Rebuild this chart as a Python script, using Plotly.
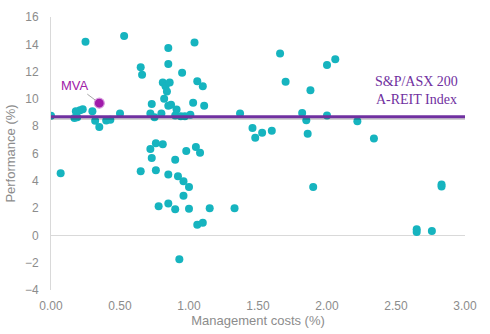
import plotly.graph_objects as go

costs = [0.00, 0.07, 0.17, 0.18, 0.21, 0.23, 0.25, 0.30, 0.32, 0.35, 0.40, 0.43, 0.50, 0.53,
         0.65, 0.66, 0.65, 0.72, 0.73, 0.75, 0.72, 0.76, 0.73, 0.76, 0.78, 0.80, 0.81, 0.81,
         0.83, 0.82, 0.84, 0.85, 0.85, 0.85, 0.87, 0.86, 0.85, 0.85, 0.90, 0.90, 0.90, 0.91,
         0.92, 0.93, 0.94, 0.95, 0.96, 0.96, 0.97, 0.98, 1.00, 1.00, 1.01, 1.03, 1.04, 1.05,
         1.06, 1.06, 1.08, 1.10, 1.10, 1.11, 1.15, 1.33, 1.37, 1.46, 1.48, 1.53, 1.60, 1.66,
         1.70, 1.82, 1.85, 1.86, 1.88, 1.90, 2.00, 2.00, 2.06, 2.22, 2.34, 2.65, 2.65, 2.76,
         2.83, 2.83, 0.19]
perf = [8.77, 4.56, 8.60, 9.10, 9.17, 9.25, 14.18, 9.10, 8.40, 7.94, 8.42, 8.48, 8.93, 14.60,
        12.31, 11.77, 4.70, 8.93, 9.62, 8.65, 6.33, 6.76, 5.67, 4.77, 2.13, 8.93, 6.67, 11.20,
        10.93, 10.01, 10.54, 13.73, 12.55, 9.49, 9.58, 11.20, 4.47, 2.34, 5.55, 1.91, 8.79, 9.23,
        4.33, -1.75, 8.72, 11.91, 3.97, 2.91, 8.72, 6.19, 3.55, 1.96, 8.83, 9.72, 14.13, 6.48,
        11.30, 0.78, 6.05, 10.92, 0.92, 9.50, 1.98, 1.98, 8.93, 7.87, 7.16, 7.52, 7.66, 13.33,
        11.25, 8.96, 8.44, 7.45, 10.64, 3.55, 12.48, 8.79, 12.90, 8.37, 7.09, 0.45, 0.25, 0.33,
        3.72, 3.58, 8.66]

mva_cost = [0.35]
mva_perf = [9.69]

index_x = [0.0, 3.0]
index_perf = [8.70, 8.70]

x_ticks = [0.0, 0.5, 1.0, 1.5, 2.0, 2.5, 3.0]
x_labels = ["0.00", "0.50", "1.00", "1.50", "2.00", "2.50", "3.00"]
y_ticks = list(range(-4, 17, 2))

fig = go.Figure()

fig.add_trace(go.Scatter(x=costs, y=perf, mode="markers",
                         marker=dict(color="#16B4BF", size=8, line=dict(width=0)),
                         hoverinfo="skip", showlegend=False))

# index line shadow + line
fig.add_trace(go.Scatter(x=index_x, y=[v - 0.1 for v in index_perf], mode="lines",
                         line=dict(color="rgba(0,0,0,0.18)", width=4),
                         hoverinfo="skip", showlegend=False))
fig.add_trace(go.Scatter(x=index_x, y=index_perf, mode="lines",
                         line=dict(color="#7030A0", width=3),
                         hoverinfo="skip", showlegend=False))

fig.add_trace(go.Scatter(x=mva_cost, y=mva_perf, mode="markers",
                         marker=dict(color="#A01AAA", size=10, line=dict(color="#D79BDD", width=1.2)),
                         hoverinfo="skip", showlegend=False))

fig.add_annotation(x=mva_cost[0], y=mva_perf[0], xref="x", yref="y", text="MVA",
                   showarrow=True, arrowhead=0, arrowwidth=1, arrowcolor="#A6A6A6",
                   ax=-24, ay=-18, standoff=5,
                   font=dict(family="Liberation Sans, Arial", size=13, color="#A020A8"))

fig.add_annotation(x=2.65, y=10.65, xref="x", yref="y",
                   text="S&P/ASX 200<br>A-REIT Index", showarrow=False,
                   align="center",
                   font=dict(family="Liberation Serif, Times New Roman, serif", size=14, color="#7030A0"))

fig.update_layout(
    width=490, height=334,
    margin=dict(l=45, r=25, t=10, b=42),
    paper_bgcolor="white", plot_bgcolor="white",
    font=dict(family="Liberation Sans, Arial", color="#8C8C8C", size=12),
    xaxis=dict(range=[0, 3], tickvals=x_ticks, ticktext=x_labels, showgrid=False,
               zeroline=False, showline=False, ticks="", ticklabelstandoff=7,
               title=dict(text="Management costs (%)", standoff=2,
                          font=dict(size=13, color="#8C8C8C")),
               tickfont=dict(size=12, color="#8C8C8C")),
    yaxis=dict(range=[-4, 16], tickvals=y_ticks, showgrid=False,
               zeroline=True, zerolinecolor="#D9D9D9", zerolinewidth=1,
               showline=True, linecolor="#D9D9D9", linewidth=1, ticks="",
               ticklabelstandoff=9,
               title=dict(text="Performance (%)", standoff=6,
                          font=dict(size=13, color="#8C8C8C")),
               tickfont=dict(size=12, color="#8C8C8C")),
)

fig.write_html("out.html")
